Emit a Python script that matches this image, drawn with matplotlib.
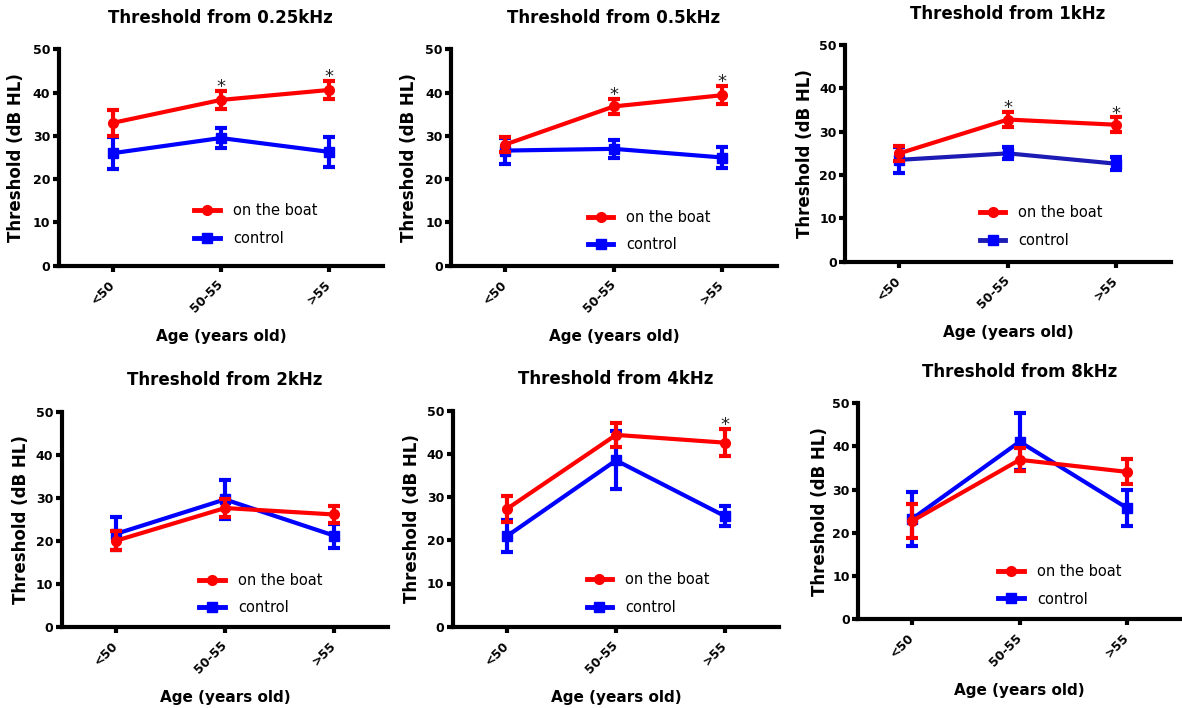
import numpy as np
import matplotlib
matplotlib.use("Agg")
import matplotlib.pyplot as plt
from matplotlib.lines import Line2D

# tranches d'âge
ages = ["<50", "50-55", ">55"]
titres = ["Threshold from 0.25kHz", "Threshold from 0.5kHz", "Threshold from 1kHz",
          "Threshold from 2kHz", "Threshold from 4kHz", "Threshold from 8kHz"]

# moyennes et erreurs (dB HL) - "on the boat"
bateau = [[33.0, 38.3, 40.6],
          [28.0, 36.8, 39.4],
          [25.0, 32.8, 31.6],
          [20.0, 27.6, 26.1],
          [27.3, 44.4, 42.6],
          [22.7, 36.9, 34.1]]
bateau_err = [[3.0, 2.0, 2.1],
              [1.8, 1.7, 2.1],
              [1.8, 1.7, 1.7],
              [2.2, 2.0, 2.0],
              [3.0, 2.7, 3.1],
              [4.0, 2.7, 2.9]]

# groupe contrôle
controle = [[26.0, 29.5, 26.3],
            [26.6, 27.0, 25.0],
            [23.5, 25.0, 22.6],
            [21.6, 29.6, 21.2],
            [21.0, 38.5, 25.6],
            [23.2, 41.1, 25.7]]
controle_err = [[3.7, 2.4, 3.4],
                [3.0, 2.0, 2.5],
                [3.0, 1.4, 1.5],
                [3.8, 4.6, 2.8],
                [3.6, 6.7, 2.4],
                [6.2, 6.6, 4.2]]

# points significatifs (*)
etoiles = [[1, 2], [1, 2], [1, 2], [], [2], []]

# position des axes en pixels (gauche, droite, haut, bas) sur 1182x708
W, H = 1182, 708
boites = [(58.7, 383.0, 49.3, 265.7),
          (451.0, 776.7, 49.3, 265.7),
          (845.0, 1170.7, 45.0, 261.7),
          (61.7, 388.3, 411.7, 626.7),
          (452.7, 779.3, 410.7, 626.7),
          (858.3, 1181.0, 403.3, 619.0)]
legendes = [(0.418, 0.19), (0.42, 0.161), (0.414, 0.162),
            (0.421, 0.152), (0.41, 0.153), (0.434, 0.156)]
ylab_x = [-0.133, -0.128, -0.123, -0.126, -0.126, -0.12]

fig = plt.figure(figsize=(W / 100, H / 100), dpi=100)
x = np.arange(len(ages))

for i in range(6):
    g, d, h, b = boites[i]
    ax = fig.add_axes([g / W, (H - b) / H, (d - g) / W, (b - h) / H])
    bleu_ligne = "#1c1cb4" if i == 2 else "#0000ff"

    ax.errorbar(x, controle[i], yerr=controle_err[i], color=bleu_ligne, lw=3,
                marker="s", ms=7, mfc="#0000ff", mec="#0000ff",
                elinewidth=3, capsize=4, capthick=3, ecolor="#0000ff", zorder=3)
    ax.errorbar(x, bateau[i], yerr=bateau_err[i], color="#ff0000", lw=3,
                marker="o", ms=7, elinewidth=3, capsize=4, capthick=3, zorder=4)

    for j in etoiles[i]:
        ax.text(x[j], bateau[i][j] + bateau_err[i][j] - 1.2, "*", ha="center",
                va="bottom", fontsize=13, color="#222222")

    ax.set_xlim(-0.5, 2.5)
    ax.set_ylim(0, 50)
    ax.set_yticks([0, 10, 20, 30, 40, 50])
    ax.set_xticks(x)
    ax.set_xticklabels(ages, rotation=45, ha="right", va="center",
                       rotation_mode="anchor", fontweight="bold", fontsize=9)
    for lab in ax.get_yticklabels():
        lab.set_fontweight("bold")
        lab.set_fontsize(9)
    for s in ["top", "right"]:
        ax.spines[s].set_visible(False)
    for s in ["left", "bottom"]:
        ax.spines[s].set_linewidth(3)
    ax.tick_params(axis="both", width=3, length=4, direction="out")
    ax.tick_params(axis="x", pad=8)
    ax.tick_params(axis="y", pad=2)

    ax.set_title(titres[i], fontsize=12, fontweight="bold", pad=19)
    ax.set_ylabel("Threshold (dB HL)", fontsize=12, fontweight="bold", va="center")
    ax.yaxis.set_label_coords(ylab_x[i], 0.5)
    ax.set_xlabel("Age (years old)", fontsize=11, fontweight="bold", va="center")
    ax.xaxis.set_label_coords(0.5, -71 / (b - h))

    poignees = [Line2D([], [], color="#ff0000", lw=3.5, marker="o", ms=7),
                Line2D([], [], color=bleu_ligne, lw=3.5, marker="s", ms=7,
                       mfc="#0000ff", mec="#0000ff")]
    ax.legend(poignees, ["on the boat", "control"], loc="center left",
              bbox_to_anchor=legendes[i], frameon=False, fontsize=10.5,
              handlelength=1.75, handletextpad=0.9, labelspacing=0.85,
              borderpad=0, borderaxespad=0)

plt.savefig("out.png", dpi=100)
